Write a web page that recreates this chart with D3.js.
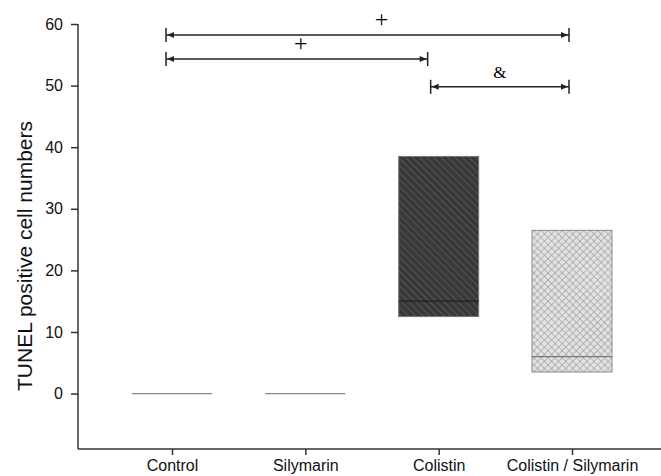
<!DOCTYPE html>
<html>
<head>
<meta charset="utf-8">
<script src="https://cdn.jsdelivr.net/npm/d3@7"></script>
<style>
  html, body { margin: 0; padding: 0; background: #fff; }
  svg { display: block; }
  text { font-family: "Liberation Sans", Arial, sans-serif; fill: #111; }
</style>
</head>
<body>
<svg id="chart" width="661" height="476"></svg>
<script>
// ---- data ----
const categories = ["Control", "Silymarin", "Colistin", "Colistin / Silymarin"];
const q1Values     = [0, 0, 12.5, 3.5];
const medianValues = [0, 0, 15, 6];
const q3Values     = [0, 0, 38.5, 26.5];
const yTicks = [0, 10, 20, 30, 40, 50, 60];
const yLabel = "TUNEL positive cell numbers";
// significance brackets: [from category, to category, y value, symbol]
const bracketFrom = ["Control", "Control", "Colistin"];
const bracketTo   = ["Colistin / Silymarin", "Colistin", "Colistin / Silymarin"];
const bracketY    = [58.2, 54.3, 49.8];
const bracketSym  = ["+", "+", "&"];

// ---- layout ----
const svg = d3.select("#chart");
const axisLeftX = 78, axisBottomY = 449, axisTopY = 24;
const x = d3.scalePoint().domain(categories).range([172, 572]);
const y = d3.scaleLinear().domain([-9, 60]).range([axisBottomY, axisTopY]);
const boxW = 80;

// patterns
const defs = svg.append("defs");
const p1 = defs.append("pattern").attr("id", "diag").attr("patternUnits", "userSpaceOnUse")
  .attr("width", 5).attr("height", 5).attr("patternTransform", "rotate(-45)");
p1.append("rect").attr("width", 5).attr("height", 5).attr("fill", "#383838");
p1.append("line").attr("x1", 0).attr("y1", 0).attr("x2", 0).attr("y2", 5)
  .attr("stroke", "#555").attr("stroke-width", 2);

const p2 = defs.append("pattern").attr("id", "cross").attr("patternUnits", "userSpaceOnUse")
  .attr("width", 5).attr("height", 5).attr("patternTransform", "rotate(45)");
p2.append("rect").attr("width", 5).attr("height", 5).attr("fill", "#e2e2e2");
p2.append("line").attr("x1", 0).attr("y1", 0).attr("x2", 0).attr("y2", 5)
  .attr("stroke", "#8a8a8a").attr("stroke-width", 1);
p2.append("line").attr("x1", 0).attr("y1", 0).attr("x2", 5).attr("y2", 0)
  .attr("stroke", "#8a8a8a").attr("stroke-width", 1);

const fills = ["none", "none", "url(#diag)", "url(#cross)"];
const strokes = ["#888", "#888", "#777", "#8a8a8a"];
const medStrokes = ["#888", "#888", "#222", "#777"];

// ---- boxes ----
const g = svg.append("g");
categories.forEach((c, i) => {
  const cx = x(c);
  if (q3Values[i] > q1Values[i]) {
    g.append("rect")
      .attr("x", cx - boxW / 2).attr("width", boxW)
      .attr("y", y(q3Values[i])).attr("height", y(q1Values[i]) - y(q3Values[i]))
      .attr("fill", fills[i]).attr("stroke", strokes[i]).attr("stroke-width", 1);
  }
  g.append("line")
    .attr("x1", cx - boxW / 2).attr("x2", cx + boxW / 2)
    .attr("y1", y(medianValues[i])).attr("y2", y(medianValues[i]))
    .attr("stroke", medStrokes[i]).attr("stroke-width", 1.3);
});

// ---- axes ----
const yAxis = svg.append("g").attr("transform", `translate(${axisLeftX},0)`)
  .call(d3.axisLeft(y).tickValues(yTicks).tickSize(7).tickPadding(8).tickFormat(d3.format("d")));
yAxis.select(".domain").attr("d", `M0,${axisTopY}V${axisBottomY}`);
const xAxis = svg.append("g").attr("transform", `translate(0,${axisBottomY})`)
  .call(d3.axisBottom(x).tickSize(6).tickPadding(4.5));
xAxis.select(".domain").attr("d", `M${axisLeftX},0H661`);
[yAxis, xAxis].forEach(a => {
  a.selectAll(".domain").attr("stroke", "#333").attr("stroke-width", 1.5);
  a.selectAll(".tick line").attr("stroke", "#333").attr("stroke-width", 1.5);
  a.selectAll(".tick text").attr("font-family", "Liberation Sans, Arial, sans-serif")
    .attr("font-size", 16).attr("fill", "#111");
});

svg.append("text")
  .attr("transform", "translate(32,256) rotate(-90)")
  .attr("text-anchor", "middle")
  .attr("font-size", 21)
  .text(yLabel);

// ---- significance brackets ----
const fromOff = [-6, -6, -8], toOff = [-3, -11, -3], symShift = [14, 4, 0];
const bg = svg.append("g").attr("stroke", "#222").attr("fill", "#222");
bracketFrom.forEach((f, i) => {
  const x1 = x(f) + fromOff[i], x2 = x(bracketTo[i]) + toOff[i], yy = y(bracketY[i]);
  bg.append("line").attr("x1", x1).attr("x2", x2).attr("y1", yy).attr("y2", yy).attr("stroke-width", 1.5);
  bg.append("line").attr("x1", x1).attr("x2", x1).attr("y1", yy - 7).attr("y2", yy + 7).attr("stroke-width", 1.5);
  bg.append("line").attr("x1", x2).attr("x2", x2).attr("y1", yy - 7).attr("y2", yy + 7).attr("stroke-width", 1.5);
  bg.append("path").attr("stroke", "none")
    .attr("d", `M${x1 + 1},${yy}L${x1 + 8},${yy - 3}L${x1 + 8},${yy + 3}Z`);
  bg.append("path").attr("stroke", "none")
    .attr("d", `M${x2 - 1},${yy}L${x2 - 8},${yy - 3}L${x2 - 8},${yy + 3}Z`);
  svg.append("text")
    .attr("x", (x1 + x2) / 2 + symShift[i]).attr("y", bracketSym[i] === "+" ? yy - 8 : yy - 9)
    .attr("text-anchor", "middle")
    .style("font-family", "'Liberation Serif', 'Times New Roman', serif")
    .style("fill", "#000")
    .attr("font-size", bracketSym[i] === "+" ? 24 : 17)
    .text(bracketSym[i]);
});
</script>
</body>
</html>
